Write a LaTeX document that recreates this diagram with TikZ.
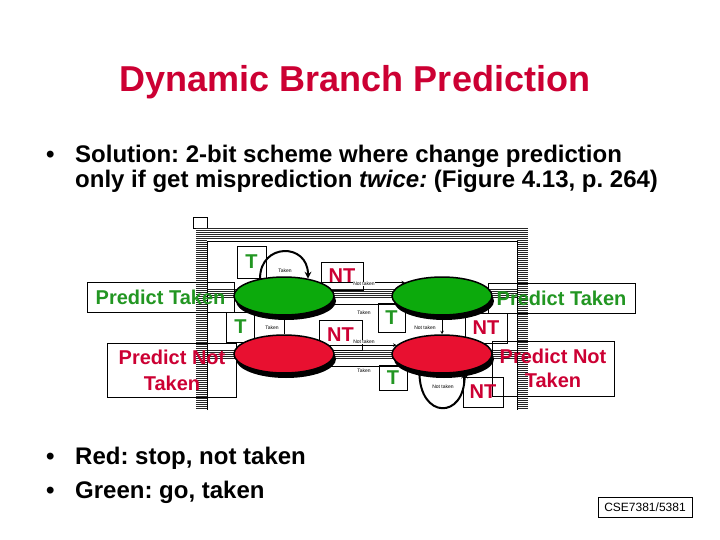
\documentclass[tikz,border=0pt]{standalone}
\usepackage{fontspec}
\setmainfont{Liberation Sans}
\usepackage{xcolor}
\usetikzlibrary{arrows,shapes,positioning,calc,shadows}
\frenchspacing

\definecolor{titlered}{RGB}{204,0,51}
\definecolor{lblgreen}{RGB}{34,150,34}
\definecolor{fillgreen}{RGB}{12,170,12}
\definecolor{fillred}{RGB}{232,16,48}

\tikzset{
  state/.style={ellipse,draw=black,line width=1.5pt,minimum width=100pt,minimum height=38pt,inner sep=0pt,
    drop shadow={shadow xshift=2pt,shadow yshift=-5pt,fill=black,opacity=1}},
  lblbox/.style={draw=black,line width=0.6pt,inner sep=0pt,font=\fontsize{20}{26}\selectfont\bfseries,align=center},
  tinylbl/.style={font=\fontsize{5}{6}\selectfont,inner sep=0.6pt,fill=white},
  trans/.style={->,>=stealth,line width=0.6pt},
  loopline/.style={->,>=stealth,line width=2pt},
  hatch/.style={line width=0.7pt,black!85},
  bigtext/.style={font=\fontsize{24}{28}\selectfont\bfseries,inner sep=0pt,anchor=base west}
}

\begin{document}
\begin{tikzpicture}[x=1pt,y=-1pt]
\useasboundingbox (0,0) rectangle (720,540);

% Title
\node[font=\fontsize{36}{40}\selectfont\bfseries,text=titlered,inner sep=0pt,anchor=base] (title) at (355,92) {Dynamic Branch Prediction};

% Bullets
\node[bigtext] (b1) at (46,163) {\textbullet};
\node[bigtext] (sol1) at (75,163) {Solution: 2-bit scheme where change prediction};
\node[bigtext] (sol2) at (75,188) {only if get misprediction \textit{twice:} (Figure 4.13, p. 264)};
\node[bigtext] (b2) at (46,464) {\textbullet};
\node[bigtext] (red) at (75,464) {Red: stop, not taken};
\node[bigtext] (b3) at (46,498) {\textbullet};
\node[bigtext] (green) at (75,498) {Green: go, taken};

% scanned frame
\draw[line width=0.6pt] (193,217) rectangle (207,228);
\foreach \y in {228,230,...,238} \draw[hatch] (196,\y) -- (528,\y);
\foreach \y in {240,242,...,408} {
  \draw[hatch] (196,\y) -- (207,\y);
  \draw[hatch] (517,\y) -- (528,\y);
}
\foreach \y in {289,291,...,297} \draw[hatch] (207,\y) -- (517,\y);
\foreach \y in {350,352,...,358} \draw[hatch] (207,\y) -- (517,\y);
\draw[line width=0.6pt] (207,410) -- (207,241) -- (517,241) -- (517,410);

% Label boxes
\node[lblbox,minimum width=147pt,minimum height=30pt,text=lblgreen] (ptl) at (160.5,297.5) {Predict Taken};
\node[lblbox,minimum width=129pt,minimum height=54pt,text=titlered] (pntl) at (172,370.5) {Predict Not\\Taken};
\node[lblbox,minimum width=147pt,minimum height=30pt,text=lblgreen] (ptr) at (561.5,298) {Predict Taken};
\node[lblbox,minimum width=122pt,minimum height=55pt,text=titlered,font=\fontsize{20}{24}\selectfont\bfseries] (pntr) at (553,368.5) {Predict Not\\Taken};

\node[lblbox,minimum width=29pt,minimum height=32pt,text=lblgreen] (t1) at (251.5,262) {T};
\node[lblbox,minimum width=42pt,minimum height=28pt,text=titlered] (nt1) at (342,276) {NT};
\node[lblbox,minimum width=28pt,minimum height=30pt,text=lblgreen] (t2) at (240.5,327) {T};
\node[lblbox,minimum width=43pt,minimum height=30pt,text=titlered] (nt2) at (340.5,335) {NT};
\node[lblbox,minimum width=27pt,minimum height=29pt,text=lblgreen] (t3) at (391.5,317.5) {T};
\node[lblbox,minimum width=28pt,minimum height=25pt,text=lblgreen] (t4) at (393,377.5) {T};
\node[lblbox,minimum width=42pt,minimum height=30pt,text=titlered] (nt3) at (486,328) {NT};
\node[lblbox,minimum width=40pt,minimum height=30pt,text=titlered] (nt4) at (483,392) {NT};

% States
\node[state,fill=fillgreen] (gl) at (284,296) {};
\node[state,fill=fillgreen] (gr) at (442,296) {};
\node[state,fill=fillred] (rl) at (284,354) {};
\node[state,fill=fillred] (rr) at (442,354) {};

% Transitions
\draw[loopline] (gl.144) .. controls ($(gl.144)+(0,-36)$) and ($(gl.36)+(0,-36)$) .. (gl.36);
\draw[loopline] (rr.218) .. controls ($(rr.218)+(0,48)$) and ($(rr.322)+(0,48)$) .. (rr.322);
\draw[trans] (gl.20) -- (gr.160);
\draw[trans] (gr.190) -- (gl.-10);
\draw[trans] (rl.north) -- (gl.south);
\draw[trans] (gr.south) -- (rr.north);
\draw[trans] (rl.11) -- (rr.169);
\draw[trans] (rr.197) -- (rl.-17);

% tiny transition labels
\node[tinylbl] (lt1) at (285,271) {Taken};
\node[tinylbl] (lnt1) at (364,284) {Not taken};
\node[tinylbl] (lt2) at (364,313) {Taken};
\node[tinylbl] (lt3) at (272,328) {Taken};
\node[tinylbl] (lnt2) at (425,328) {Not taken};
\node[tinylbl] (lnt3) at (364,342) {Not taken};
\node[tinylbl] (lt4) at (364,371) {Taken};
\node[tinylbl] (lnt4) at (443,387) {Not taken};

% footer
\node[draw=black,line width=0.8pt,minimum width=94pt,minimum height=20pt,inner sep=0pt,font=\fontsize{12}{14}\selectfont] (cse) at (645,507) {CSE7381/5381};
\end{tikzpicture}
\end{document}
